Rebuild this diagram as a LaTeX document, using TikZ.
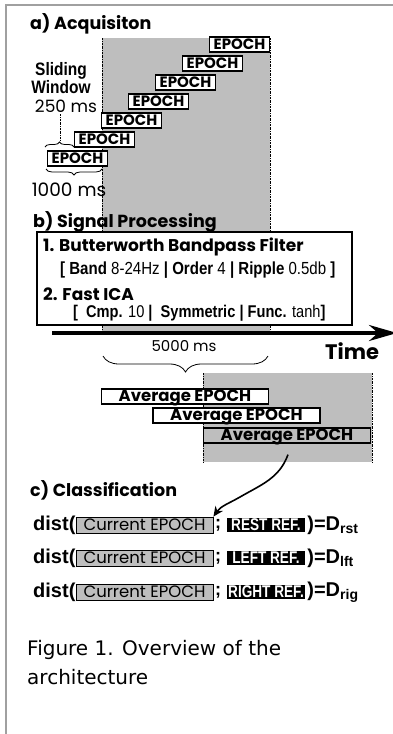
\documentclass[tikz,border=0pt]{standalone}
\usepackage{fontspec}
\setmainfont{Poppins}
\newfontfamily\armfont{Liberation Sans}
\newfontfamily\narrowsans[FakeStretch=0.86]{Liberation Sans}
\newfontfamily\refsans[FakeStretch=0.8]{Liberation Sans}
\newfontfamily\captionfont{DejaVu Sans}
\usetikzlibrary{positioning, arrows.meta, decorations.pathreplacing}

\definecolor{bandgray}{RGB}{190,190,190}
\definecolor{framegray}{RGB}{160,160,160}

\begin{document}
\begin{tikzpicture}[
    x=1pt, y=-1pt,
    title/.style={anchor=west, inner sep=0pt, font=\fontsize{17.5}{18}\selectfont\bfseries},
    epoch/.style={draw, very thick, fill=white, minimum width=60pt, minimum height=15pt, inner sep=0pt, font=\fontsize{15}{15}\selectfont\bfseries},
    avg/.style={epoch, minimum width=167pt, text height=10.5pt, text depth=1.5pt, font=\fontsize{16.5}{16}\selectfont\bfseries},
    ms/.style={inner sep=0pt, font=\fontsize{17}{17}\selectfont},
    line/.style={anchor=west, inner sep=0pt},
    current/.style={draw, thick, fill=bandgray, minimum width=137pt, minimum height=16pt, inner sep=0pt, font=\fontsize{16.5}{16}\selectfont},
    ref/.style={fill=black, text=white, minimum width=78pt, minimum height=14pt, inner sep=1pt, font=\refsans\fontsize{17}{17}\selectfont\bfseries},
    guide/.style={thin, dash pattern=on 2pt off 1pt on 0.5pt off 1pt},
    brace/.style={decorate, decoration={brace, amplitude=#1}, thick},
    arrow/.style={-{Stealth[length=10pt, width=9pt]}, line width=1.6pt}
]
    \useasboundingbox (0,0) rectangle (393,734);
    \draw[framegray, line width=2pt] (6,734) -- (6,5) -- (393,5);

    % a) acquisition
    \node[title] (acq) at (30,24) {a) Acquisiton};
    \fill[bandgray] (102,38) rectangle (270,333);
    \draw[guide] (102,38) -- (102,333);
    \draw[guide] (270,38) -- (270,333);
    \foreach \i in {0,...,6}
        \node[epoch] (ep\i) at ({77.5+27*\i},{158.5-19*\i}) {EPOCH};
    \node[align=center, inner sep=0pt, font=\narrowsans\fontsize{18}{16}\selectfont\bfseries] (slide) at (61,78) {Sliding\\Window};
    \node[ms] (ms250) at (66,106) {250 ms};
    \coordinate (tip) at (60,141);
    \draw[guide, semithick] (60,114) -- (tip);
    \draw[brace=5pt] (45,147) -- (74,147);
    \draw[brace=6pt] (102,169) -- (46,169);
    \node[ms, font=\fontsize{18.5}{18}\selectfont] (ms1000) at (69,190) {1000 ms};

    % b) signal processing
    \node[title] (proc) at (33,222) {b) Signal Processing};
    \node[draw, line width=1.5pt, fill=white, minimum width=315pt, minimum height=93pt] (filt) at (194.5,278.5) {};
    \node[line, font=\fontsize{17}{18}\selectfont\bfseries] (bw) at (43,247) {1. Butterworth Bandpass Filter};
    \node[line, font=\narrowsans\fontsize{17.5}{16}\selectfont] (bwpar) at (60,270) {\textbf{[ Band} 8-24Hz \textbf{| Order} 4 \textbf{| Ripple} 0.5db \textbf{]}};
    \node[line, font=\fontsize{17}{18}\selectfont\bfseries] (ica) at (43,294) {2. Fast ICA};
    \node[line, font=\narrowsans\fontsize{17}{16}\selectfont] (icapar) at (73,313) {\textbf{[\ \ Cmp.} 10 \textbf{|\ \ Symmetric | Func.} tanh\textbf{]}};

    \coordinate (t0) at (52,333);
    \coordinate (t1) at (397,333);
    \draw[line width=3.5pt, -{Stealth[length=28pt, width=16pt]}] (t0) -- (t1);
    \node[line, font=\fontsize{21}{21}\selectfont\bfseries] (time) at (325,351) {Time};
    \node[ms, font=\fontsize{15}{16}\selectfont] (ms5000) at (184,346) {5000 ms};
    \draw[brace=16pt] (268,356) -- (103,356);

    \fill[bandgray] (203,373) rectangle (372,462);
    \draw[guide] (203,373) -- (203,462);
    \draw[guide] (372,373) -- (372,462);
    \node[avg] (avg0) at (185,396.5) {Average EPOCH};
    \node[avg] (avg1) at (236.5,415.5) {Average EPOCH};
    \node[avg, fill=bandgray] (avg2) at (287,435.5) {Average EPOCH};

    % c) classification
    \node[title] (cls) at (30,490) {c) Classification};
    \foreach \y/\r/\d [count=\k] in {525/REST REF./rst, 558/LEFT REF./lft, 592/RIGHT REF./rig} {
        \node[line, font=\armfont\fontsize{20}{20}\selectfont\bfseries] (dist\k) at (33,\y) {dist(};
        \node[current, right=0pt of dist\k] (cur\k) {Current EPOCH};
        \node[ref] (ref\k) at (266,\y) {\r};
        \node[font=\armfont\fontsize{18}{18}\selectfont\bfseries, inner sep=0pt] (semi\k) at (218,\y) {;};
        \node[line, font=\armfont\fontsize{20}{20}\selectfont\bfseries, right=2pt of ref\k] (eq\k) {)=D\textsubscript{\d}};
    }
    \draw[arrow] (avg2.south) ++(1,11) to[out=-110, in=30] (240,497) to[out=210, in=55] (cur1.north east);

    % caption
    \node[anchor=north west, align=left, inner sep=0pt, font=\captionfont\fontsize{20}{29}\selectfont] (cap) at (27,640) {Figure 1. Overview of the\\architecture};
\end{tikzpicture}
\end{document}
